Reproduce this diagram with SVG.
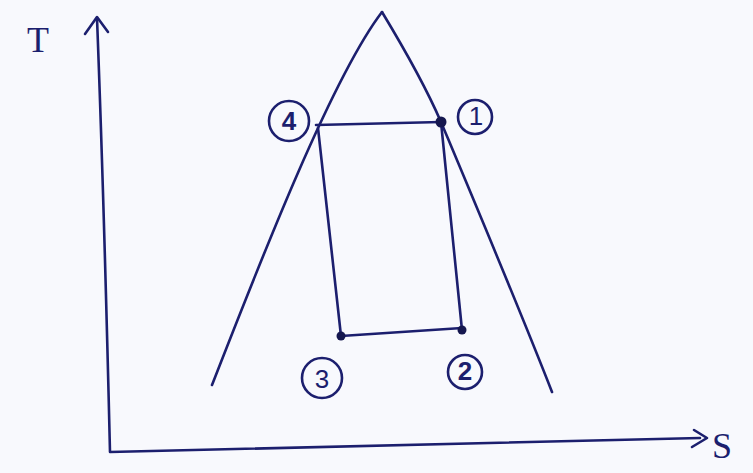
<svg xmlns="http://www.w3.org/2000/svg" width="753" height="473" viewBox="0 0 753 473">
<style>
.ln{fill:none;stroke:#1c1f6e;stroke-width:2.6;stroke-linecap:round;stroke-linejoin:round}
.lc{fill:none;stroke:#1c1f6e;stroke-width:2.6}
.dot{fill:#15174f}
.tx{font-family:"Liberation Sans",Arial,sans-serif;font-size:26px;fill:#1c1f6e;text-anchor:middle}
.ax{font-family:"Liberation Serif","Times New Roman",serif;font-size:36px;fill:#1c1f6e;text-anchor:middle}
</style>
<rect width="753" height="473" fill="#f8f9fd"/>
<g id="axes">
<path class="ln" d="M97,18 Q104,200 110,452 L700,438"/>
<path class="ln" d="M85,34 L97,17 L108,32"/>
<path class="ln" d="M694,430 L707,438 L692,447"/>
<text class="ax" x="38" y="52">T</text>
<text class="ax" x="722" y="458">S</text>
</g>
<g id="dome">
<path class="ln" d="M212,385 C255,275 330,80 382,12"/>
<path class="ln" d="M382,12 C405,50 428,92 441,122 C480,215 520,310 552,392"/>
</g>
<g id="connectors">
<path class="ln" d="M316,125 L441,122"/>
<path class="ln" d="M318,128 L341,336"/>
<path class="ln" d="M441,122 L462,330"/>
<path class="ln" d="M341,336 L462,328"/>
</g>
<g id="state4">
<circle class="lc" cx="289" cy="121" r="20"/>
<text class="tx" x="289" y="130" font-weight="bold">4</text>
</g>
<g id="state1">
<circle class="dot" cx="441" cy="122" r="5.5"/>
<circle class="lc" cx="475" cy="117" r="17"/>
<text class="tx" x="476" y="125" font-size="20">1</text>
</g>
<g id="state3">
<circle class="dot" cx="341" cy="336" r="4.5"/>
<circle class="lc" cx="322" cy="378" r="20"/>
<text class="tx" x="322" y="388">3</text>
</g>
<g id="state2">
<circle class="dot" cx="462" cy="330" r="4.5"/>
<circle class="lc" cx="465" cy="372" r="17"/>
<text class="tx" x="465" y="380" font-size="20" font-weight="bold">2</text>
</g>
</svg>
